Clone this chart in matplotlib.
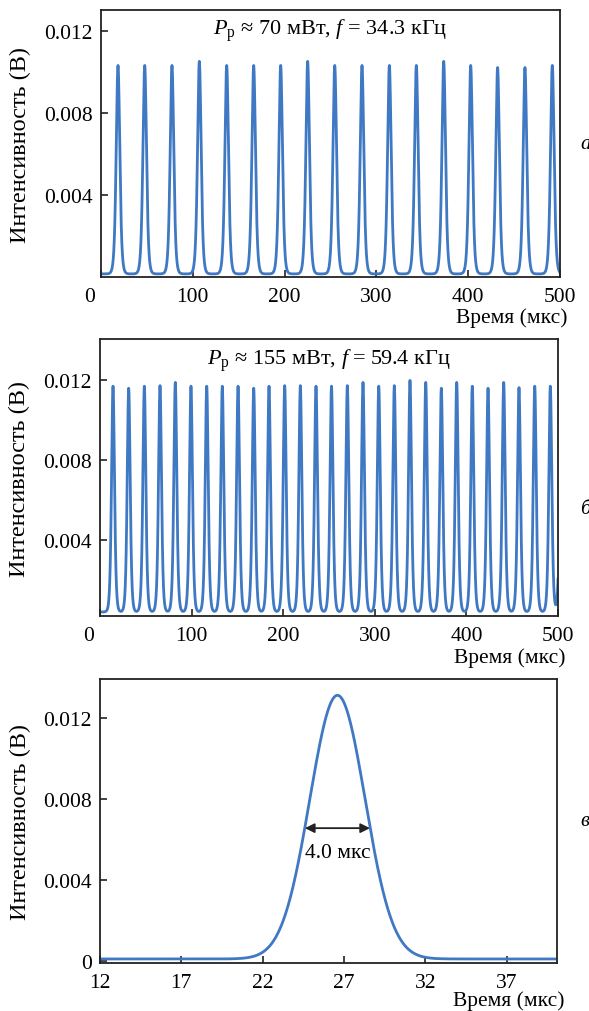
import numpy as np
import matplotlib.pyplot as plt
from matplotlib.transforms import ScaledTranslation

plt.rcParams['font.family'] = ['Liberation Serif', 'DejaVu Serif']
plt.rcParams['mathtext.fontset'] = 'custom'
plt.rcParams['mathtext.rm'] = 'Liberation Serif'
plt.rcParams['mathtext.it'] = 'Liberation Serif:italic'
plt.rcParams['font.size'] = 15.5

LINE = '#3f78c3'

# (a) P ~ 70 mW, f = 34.3 kHz : pulse centres (us) and peak heights (V)
a_centers = [18.5, 47.6, 77.3, 107.1, 136.9, 166.3, 195.7, 225.1, 254.6,
             284.3, 314.1, 343.5, 373.3, 402.7, 432.0, 461.8, 491.6]
a_heights = [0.0103, 0.0103, 0.0103, 0.0105, 0.0103, 0.0103, 0.0103, 0.0105,
             0.0103, 0.0103, 0.0103, 0.0103, 0.0105, 0.0103, 0.0102, 0.0102,
             0.0103]
a_fwhm = 4.6
a_base = 0.00015

# (b) P ~ 155 mW, f = 59.4 kHz
b_centers = [14.2, 31.3, 48.4, 65.5, 82.2, 99.3, 116.5, 133.5, 150.7, 167.8,
             184.5, 201.6, 218.7, 235.8, 252.7, 270.0, 287.1, 304.3, 321.3,
             338.4, 355.6, 372.6, 389.4, 406.4, 423.6, 440.7, 457.4, 474.6,
             491.6, 503.5]
b_heights = [0.01169, 0.01159, 0.01169, 0.01172, 0.01188, 0.01169, 0.01169,
             0.01169, 0.01169, 0.01159, 0.01169, 0.01172, 0.01172, 0.01169,
             0.01169, 0.01172, 0.01188, 0.01169, 0.01172, 0.01198, 0.01188,
             0.01159, 0.01188, 0.01169, 0.01159, 0.01188, 0.01162, 0.01169,
             0.01169, 0.0117]
b_fwhm = 3.8
b_base = 0.0004

# (c) single pulse, zoomed
c_center = 26.6
c_height = 0.0131
c_fwhm = 4.0
c_base = 0.0001


def pulse_train(t, centers, heights, fwhm, base, shape='sech2'):
    y = np.full_like(t, base)
    for c, h in zip(centers, heights):
        u = (t - c) / fwhm
        if shape == 'sech2':
            p = 1.0 / np.cosh(1.7627 * u) ** 2
        else:
            p = np.exp(-4 * np.log(2) * u ** 2)
        y += (h - base) * p
    return y


def style_axes(ax, xlab_y):
    for s in ax.spines.values():
        s.set_linewidth(1.3)
        s.set_color('#222222')
    ax.tick_params(direction='in', length=5, width=1.2, color='#222222',
                   top=False, right=False, labelsize=15.5)
    ax.tick_params(axis='y', pad=6)
    ax.tick_params(axis='x', pad=7)
    ax.set_ylabel('Интенсивность (В)', fontsize=17.5)
    ax.yaxis.set_label_coords(-0.152, 0.5)
    ax.set_xlabel('Время (мкс)', fontsize=15.5, ha='right', va='center')
    ax.xaxis.set_label_coords(1.016, xlab_y)


fig = plt.figure(figsize=(5.89, 10.12), dpi=100)
ax_a = fig.add_axes([0.1715, 0.7253, 0.7793, 0.2638])
ax_b = fig.add_axes([0.1698, 0.3903, 0.7776, 0.2737])
ax_c = fig.add_axes([0.1698, 0.0474, 0.7759, 0.2806])

t = np.linspace(0, 500, 5001)
ax_a.plot(t, pulse_train(t, a_centers, a_heights, a_fwhm, a_base), color=LINE, lw=2.0)
ax_b.plot(t, pulse_train(t, b_centers, b_heights, b_fwhm, b_base), color=LINE, lw=2.0)
tc = np.linspace(12, 40, 2001)
ax_c.plot(tc, pulse_train(tc, [c_center], [c_height], c_fwhm, c_base, shape='gauss'),
          color=LINE, lw=2.0)

for ax, ylim, xy in ((ax_a, (0, 0.0130), -0.15), (ax_b, (0.0002, 0.01405), -0.148)):
    ax.set_xlim(0, 500)
    ax.set_ylim(*ylim)
    ax.set_xticks([0, 100, 200, 300, 400, 500])
    ax.set_yticks([0.004, 0.008, 0.012])
    ax.set_yticklabels(['0.004', '0.008', '0.012'])
    style_axes(ax, xy)
    # the leftmost "0" sits a bit left of the axis corner
    lbl = ax.get_xticklabels()[0]
    lbl.set_transform(lbl.get_transform() + ScaledTranslation(-0.11, 0, fig.dpi_scale_trans))

ax_c.set_xlim(12, 40.1)
ax_c.set_ylim(-0.0001, 0.0139)
ax_c.set_xticks([12, 17, 22, 27, 32, 37])
ax_c.set_yticks([0, 0.004, 0.008, 0.012])
ax_c.set_yticklabels(['0', '0.004', '0.008', '0.012'])
style_axes(ax_c, -0.132)

ax_a.text(0.5, 0.925, r'$P_{\mathrm{р}}$ ≈ 70 мВт, $f$ = 34.3 кГц', transform=ax_a.transAxes,
          ha='center', va='center', fontsize=16)
ax_b.text(0.5, 0.925, r'$P_{\mathrm{р}}$ ≈ 155 мВт, $f$ = 59.4 кГц', transform=ax_b.transAxes,
          ha='center', va='center', fontsize=16)

# FWHM marker on the zoomed pulse
half = c_height / 2
x0 = c_center - c_fwhm / 2
x1 = c_center + c_fwhm / 2
ax_c.annotate('', xy=(x0, half), xytext=(x1, half),
              arrowprops=dict(arrowstyle='<|-|>', color='#222222', lw=1.3,
                              mutation_scale=14, shrinkA=0, shrinkB=0))
ax_c.text(c_center, half - 0.0012, f'{c_fwhm:.1f} мкс', ha='center', va='center', fontsize=15.5)

for y, s in ((145, 'а'), (510, 'б'), (822, 'в')):
    fig.text(580 / 589, 1 - y / 1012, s, style='italic', fontsize=15, ha='left', va='center')

fig.savefig('out.png', dpi=100)
